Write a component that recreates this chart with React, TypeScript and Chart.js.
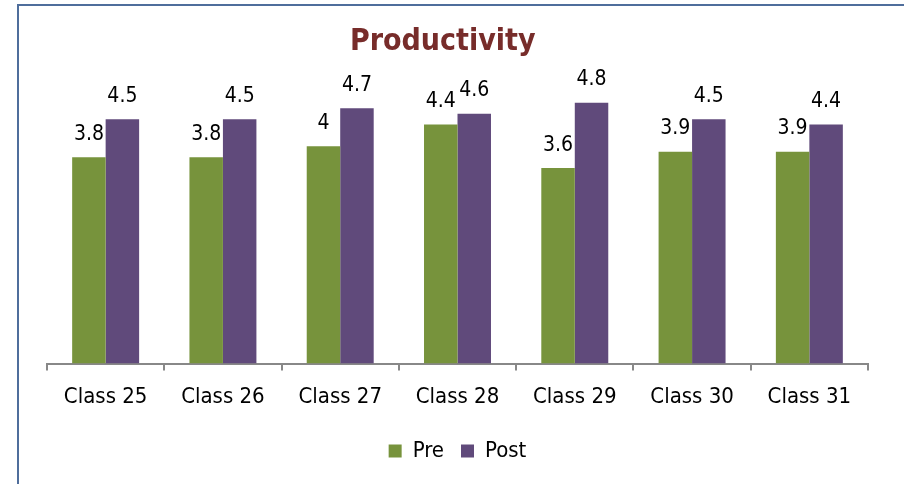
import React, { useEffect, useRef } from "react";
import { Chart, registerables } from "chart.js";

Chart.register(...registerables);

const categories = ["Class 25", "Class 26", "Class 27", "Class 28", "Class 29", "Class 30", "Class 31"];
const preValues = [3.8, 3.8, 4, 4.4, 3.6, 3.9, 3.9];
const postValues = [4.5, 4.5, 4.7, 4.6, 4.8, 4.5, 4.4];
const seriesNames = ["Pre", "Post"];
const titleText = "Productivity";

const FONT = "'Liberation Sans Narrow', 'Arial Narrow', 'DejaVu Sans Condensed', sans-serif";

const labelPlugin = {
  id: "valueLabels",
  afterDatasetsDraw(chart: any) {
    const ctx = chart.ctx;
    ctx.save();
    ctx.font = `21px ${FONT}`;
    ctx.fillStyle = "#000";
    ctx.textAlign = "center";
    ctx.textBaseline = "middle";
    chart.data.datasets.forEach((ds: any, di: number) => {
      const meta = chart.getDatasetMeta(di);
      meta.data.forEach((bar: any, i: number) => {
        ctx.fillText(String(ds.data[i]), bar.x, bar.y - 23);
      });
    });
    ctx.restore();
  },
};

const titlePlugin = {
  id: "customTitle",
  afterDraw(chart: any) {
    const ctx = chart.ctx;
    const a = chart.chartArea;
    ctx.save();
    ctx.font = `bold 30px ${FONT}`;
    ctx.fillStyle = "#772C2A";
    ctx.textAlign = "center";
    ctx.textBaseline = "middle";
    ctx.fillText(titleText, a.left + (a.right - a.left) * 0.482, 36);
    ctx.restore();
  },
};

export default function App() {
  const ref = useRef<HTMLCanvasElement>(null);
  useEffect(() => {
    if (!ref.current) return;
    const chart = new Chart(ref.current, {
      type: "bar",
      data: {
        labels: categories,
        datasets: [
          { label: seriesNames[0], data: preValues, backgroundColor: "#77933C", categoryPercentage: 0.571, barPercentage: 1 },
          { label: seriesNames[1], data: postValues, backgroundColor: "#604A7B", categoryPercentage: 0.571, barPercentage: 1 },
        ],
      },
      options: {
        animation: false,
        responsive: false,
        layout: { padding: { top: 86, left: 28, right: 36, bottom: 12 } },
        scales: {
          y: { display: false, min: 0, max: 5 },
          x: {
            border: { display: true, color: "#888", width: 2 },
            grid: { display: true, offset: true, drawOnChartArea: false, drawTicks: true, tickLength: 7, color: "#888", lineWidth: 2 },
            ticks: { color: "#000", font: { family: FONT, size: 22 }, padding: 13 },
          },
        },
        plugins: {
          legend: {
            position: "bottom",
            labels: { color: "#000", font: { family: FONT, size: 22 }, boxWidth: 13, boxHeight: 13, padding: 17 },
          },
          title: { display: false },
          tooltip: { enabled: false },
        },
      },
      plugins: [labelPlugin, titlePlugin],
    });
    return () => chart.destroy();
  }, []);
  return (
    <div style={{ position: "fixed", left: 17, top: 4, width: 900, height: 500, border: "2px solid #4F6E9C", background: "#fff" }}>
      <canvas ref={ref} width={885} height={478} style={{ display: "block" }} />
    </div>
  );
}
